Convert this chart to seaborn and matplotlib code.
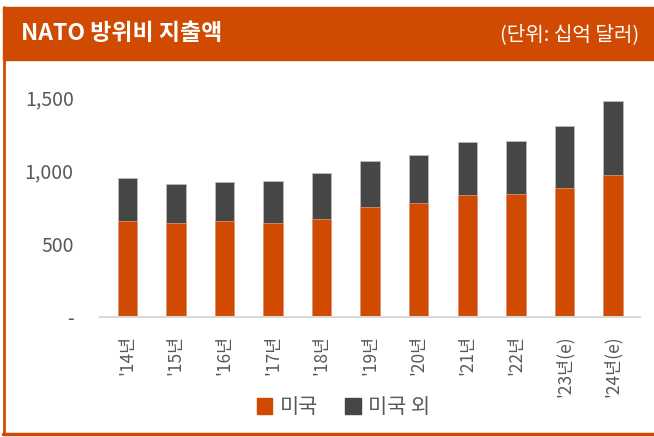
import numpy as np
import matplotlib.pyplot as plt
import seaborn as sns
import pandas as pd
from matplotlib.patches import Rectangle
from matplotlib.lines import Line2D

years = ["'14년", "'15년", "'16년", "'17년", "'18년", "'19년", "'20년", "'21년", "'22년", "'23년(e)", "'24년(e)"]
us = [656, 644, 657, 644, 671, 753, 774, 829, 842, 877, 967]
non_us = [289, 260, 261, 281, 308, 309, 329, 363, 357, 424, 507]

orange = "#D04A02"
dark = "#464646"
gray_txt = "#595959"

df = pd.DataFrame({"year": years, "us": us, "non_us": non_us})
df["total"] = df["us"] + df["non_us"]

sns.set_style("white")
plt.rcParams["font.family"] = ["Noto Sans CJK KR", "DejaVu Sans"]

fig = plt.figure(figsize=(6.54, 4.37), dpi=100)
ax = fig.add_axes([0.153, 0.2746, 0.826, 0.5034])

sns.barplot(data=df, x="year", y="total", color=dark, width=0.4, saturation=1,
            edgecolor="#BFBFBF", linewidth=0.5, ax=ax)
sns.barplot(data=df, x="year", y="us", color=orange, width=0.4, saturation=1,
            edgecolor="#E8A080", linewidth=0.5, ax=ax)

ax.set_ylim(0, 1500)
ax.set_xlim(-0.56, 10.56)
ax.set_yticks([0, 500, 1000, 1500])
ax.set_yticklabels(["-", "500", "1,000", "1,500"], color=gray_txt, fontsize=14)
ax.set_xticks(range(len(years)))
ax.set_xticklabels(years, rotation=90, color=gray_txt, fontsize=12.5, va="top")
ax.tick_params(axis="x", length=0, pad=13)
ax.tick_params(axis="y", length=0, pad=19)
ax.set_xlabel("")
ax.set_ylabel("")
for s in ["top", "right", "left"]:
    ax.spines[s].set_visible(False)
ax.spines["bottom"].set_color("#D9D9D9")
ax.spines["bottom"].set_linewidth(1.5)

handles = [Rectangle((0, 0), 1, 1, color=orange), Rectangle((0, 0), 1, 1, color=dark)]
fig.legend(handles, ["미국", "미국 외"], loc="center", bbox_to_anchor=(0.525, 0.068),
           ncol=2, frameon=False, fontsize=15, handlelength=0.75, handleheight=0.75,
           handletextpad=0.35, columnspacing=1.3, labelcolor=gray_txt)

# header band and border
fig.patches.append(Rectangle((0.005, 0.862), 0.995, 0.122, transform=fig.transFigure,
                             color=orange, zorder=0))
fig.add_artist(Line2D([0.006, 0.006], [0.008, 0.984], transform=fig.transFigure,
                      color=orange, linewidth=2))
fig.add_artist(Line2D([0.005, 1.0], [0.008, 0.008], transform=fig.transFigure,
                      color=orange, linewidth=2.5))
fig.text(0.032, 0.923, "NATO 방위비 지출액", color="white", fontsize=16.5,
         fontweight="bold", va="center", ha="left")
fig.text(0.978, 0.921, "(단위: 십억 달러)", color="white", fontsize=14.5,
         va="center", ha="right")

fig.savefig("out.png", dpi=100)
